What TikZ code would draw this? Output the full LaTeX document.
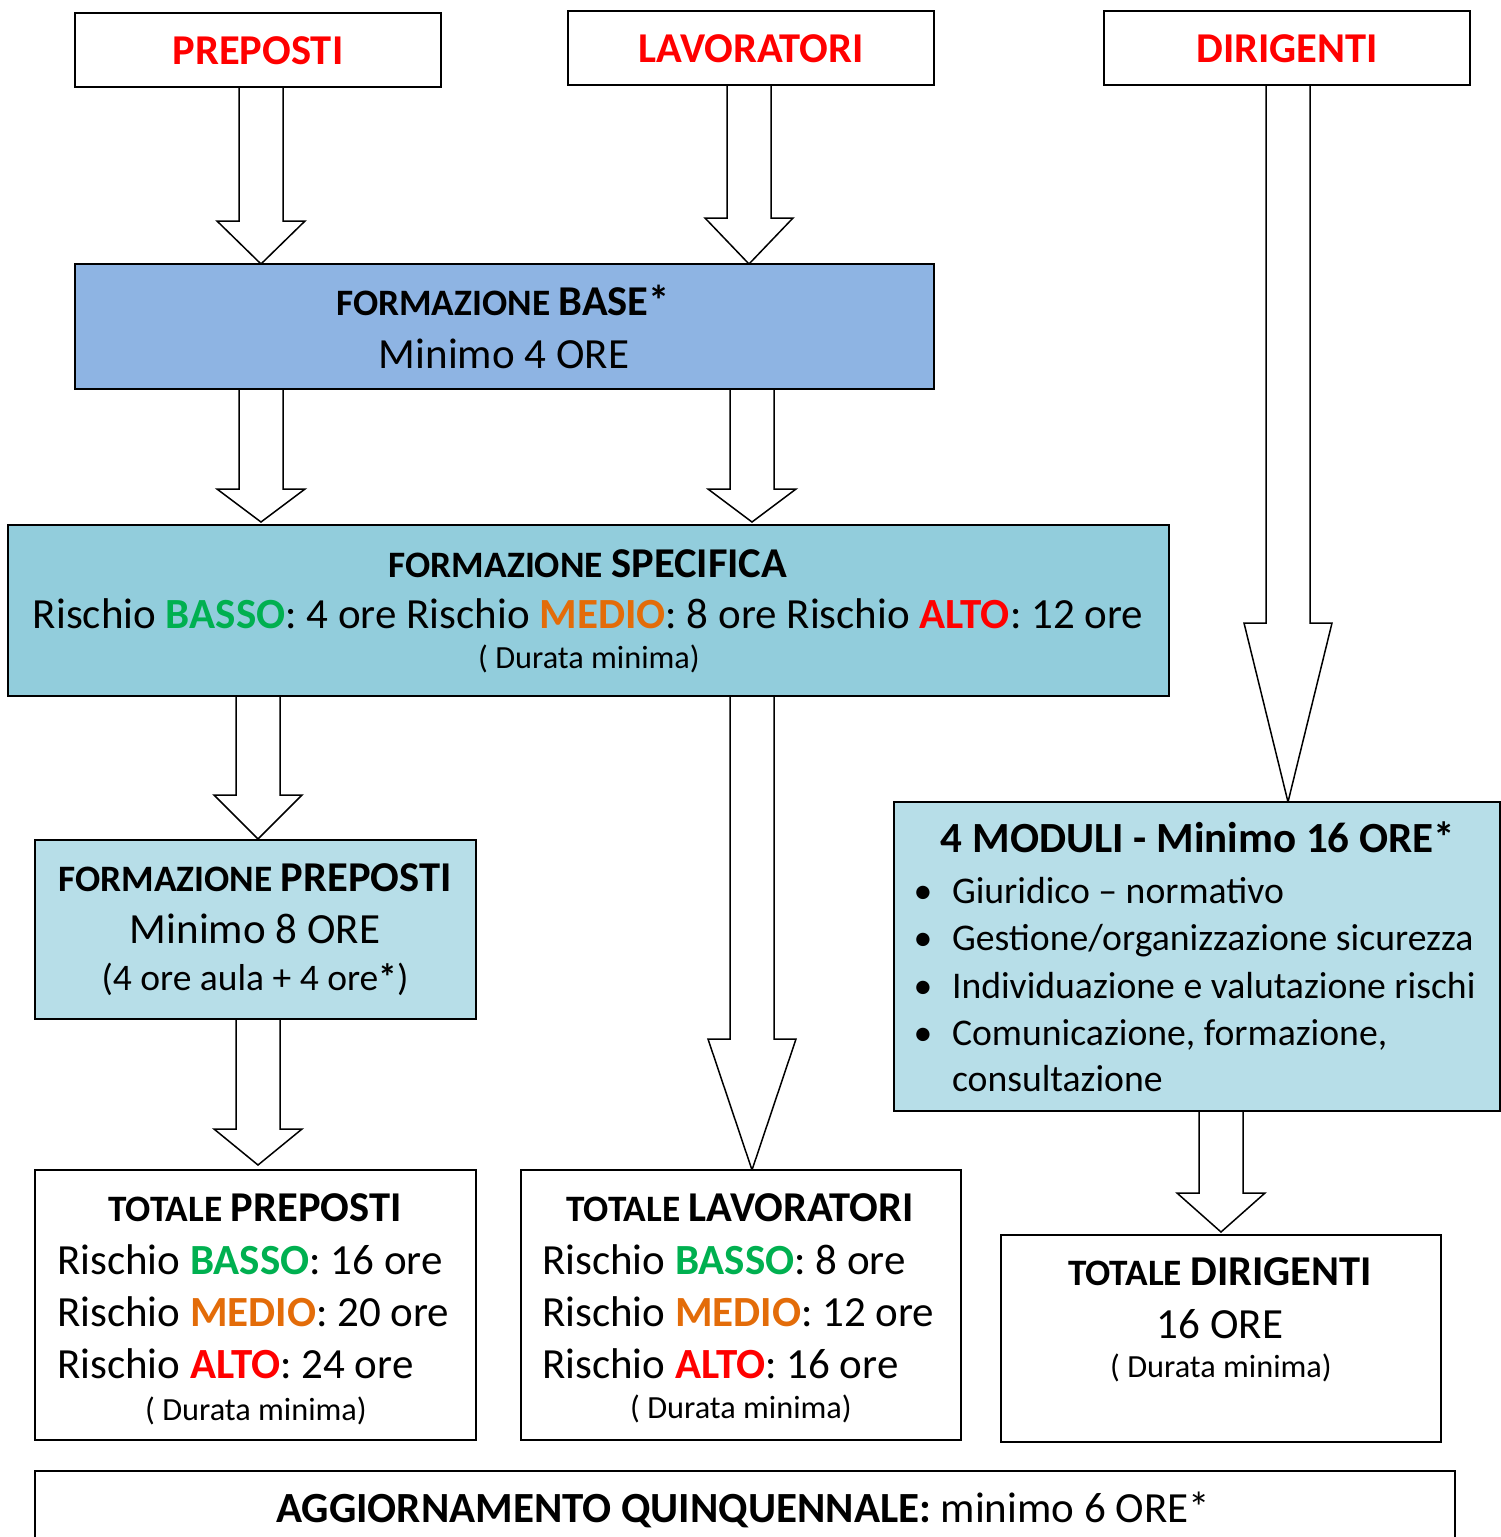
\documentclass[tikz,border=0pt]{standalone}
\usepackage{fontspec}
\setmainfont{Carlito}
\usetikzlibrary{calc,backgrounds}
\definecolor{rred}{HTML}{FF0000}
\definecolor{rgreen}{HTML}{00B050}
\definecolor{rorange}{HTML}{E36C09}
\definecolor{fblue}{HTML}{8EB4E3}
\definecolor{fspec}{HTML}{92CDDC}
\definecolor{flight}{HTML}{B7DEE8}
\newcommand\fsz[1]{\fontsize{#1pt}{#1pt}\selectfont}
\newcommand\bassoW{\textcolor{rgreen}{\textbf{BASSO}}}
\newcommand\medioW{\textcolor{rorange}{\textbf{MEDIO}}}
\newcommand\altoW{\textcolor{rred}{\textbf{ALTO}}}
\newcommand\blockarrow[5]{%
  \coordinate (ax) at (#3,0);
  \draw[blk] ([xshift=-22pt]ax |- #1.south)
    -- ([xshift=-22pt,yshift=#4pt+#5pt]ax |- #2.north)
    -- ([xshift=-44pt,yshift=#4pt+#5pt]ax |- #2.north)
    -- ([yshift=#5pt]ax |- #2.north)
    -- ([xshift=44pt,yshift=#4pt+#5pt]ax |- #2.north)
    -- ([xshift=22pt,yshift=#4pt+#5pt]ax |- #2.north)
    -- ([xshift=22pt]ax |- #1.south);
}
\tikzset{
  box/.style={draw=black, line width=1.5pt, inner sep=0pt, outer sep=0pt, rectangle},
  blk/.style={draw=black, line width=1.5pt, fill=white, line join=miter},
  txt/.style={inner sep=0pt, outer sep=0pt, anchor=base},
  txtl/.style={inner sep=0pt, outer sep=0pt, anchor=base west},
  redlab/.style={txt, text=rred, font=\fsz{42.5}\bfseries},
  body/.style={font=\fsz{43}},
  dur/.style={font=\fsz{32.3}},
  bul/.style={font=\fsz{37.7}},
}
\newcommand\ttl[2]{{\fsz{37.3}\bfseries #1 }{\fsz{42.5}\bfseries #2}}
\begin{document}
\begin{tikzpicture}[x=1pt,y=-1pt]
\useasboundingbox (0,0) rectangle (1501,1537);
\clip (0,0) rectangle (1501,1537);
% boxes
\node[box, fill=white, minimum width=366pt, minimum height=74pt] (prep) at (258,50) {};
\node[box, fill=white, minimum width=366pt, minimum height=74pt] (lav) at (751,48) {};
\node[box, fill=white, minimum width=366pt, minimum height=74pt] (dir) at (1287,48) {};
\node[box, fill=fblue, minimum width=859pt, minimum height=125pt] (base) at (504.5,326.5) {};
\node[box, fill=fspec, minimum width=1161pt, minimum height=171pt] (spec) at (588.5,610.5) {};
\node[box, fill=flight, minimum width=441pt, minimum height=179pt] (fprep) at (255.5,929.5) {};
\node[box, fill=flight, minimum width=606pt, minimum height=309pt] (mod) at (1197,956.5) {};
\node[box, fill=white, minimum width=441pt, minimum height=270pt] (totp) at (255.5,1305) {};
\node[box, fill=white, minimum width=440pt, minimum height=270pt] (totl) at (741,1305) {};
\node[box, fill=white, minimum width=440pt, minimum height=207pt] (totd) at (1221,1338.5) {};
\node[box, fill=white, minimum width=1420pt, minimum height=140pt] (agg) at (745,1541) {};
% arrows
\begin{scope}[on background layer]
\blockarrow{prep}{base}{261}{43}{0}
\blockarrow{lav}{base}{749}{46}{0}
\blockarrow{base}{spec}{261}{33}{3}
\blockarrow{base}{spec}{752}{33}{3}
\blockarrow{spec}{fprep}{258}{44}{1}
\blockarrow{spec}{totl}{752}{131}{0}
\blockarrow{dir}{mod}{1288}{179}{0}
\blockarrow{fprep}{totp}{258}{36}{5}
\blockarrow{mod}{totd}{1221}{39}{3}
\end{scope}
% texts
\node[redlab] (t1) at (258,64) {PREPOSTI};
\node[redlab] (t2) at (751,62) {LAVORATORI};
\node[redlab] (t3) at (1287,62) {DIRIGENTI};
\node[txt] (t4) at (503,315) {\ttl{FORMAZIONE}{BASE*}};
\node[txt, body] (t5) at (504,368) {Minimo 4 ORE};
\node[txt] (t6) at (588,577) {\ttl{FORMAZIONE}{SPECIFICA}};
\node[txt, body] (t7) at (588,628) {Rischio \bassoW: 4 ore Rischio \medioW: 8 ore Rischio \altoW: 12 ore};
\node[txt, dur] (t8) at (589,668) {( Durata minima)};
\node[txt] (t9) at (255,891) {\ttl{FORMAZIONE}{PREPOSTI}};
\node[txt, body] (t10) at (255,943) {Minimo 8 ORE};
\node[txt, font=\fsz{37.5}] (t11) at (255,990) {(4 ore aula + 4 ore\textbf{*})};
\node[txt, font=\fsz{43}\bfseries] (t12) at (1198,852) {4 MODULI - Minimo 16 ORE*};
\node[txt, bul] (b1) at (923,903) {•};
\node[txtl, bul] (t13) at (952,903) {Giuridico – normativo};
\node[txt, bul] (b2) at (923,950) {•};
\node[txtl, bul] (t14) at (952,950) {Gestione/organizzazione sicurezza};
\node[txt, bul] (b3) at (923,998) {•};
\node[txtl, bul] (t15) at (952,998) {Individuazione e valutazione rischi};
\node[txt, bul] (b4) at (923,1045) {•};
\node[txtl, bul] (t16) at (952,1045) {Comunicazione, formazione,};
\node[txtl, bul] (t17) at (952,1091) {consultazione};
\node[txt] (t18) at (255,1221) {\ttl{TOTALE}{PREPOSTI}};
\node[txtl, body] (t19) at (57,1274) {Rischio \bassoW: 16 ore};
\node[txtl, body] (t20) at (57,1326) {Rischio \medioW: 20 ore};
\node[txtl, body] (t21) at (57,1378) {Rischio \altoW: 24 ore};
\node[txt, dur] (t22) at (256,1420) {( Durata minima)};
\node[txt] (t23) at (740,1221) {\ttl{TOTALE}{LAVORATORI}};
\node[txtl, body] (t24) at (542,1274) {Rischio \bassoW: 8 ore};
\node[txtl, body] (t25) at (542,1326) {Rischio \medioW: 12 ore};
\node[txtl, body] (t26) at (542,1378) {Rischio \altoW: 16 ore};
\node[txt, dur] (t27) at (741,1418) {( Durata minima)};
\node[txt] (t28) at (1220,1285) {\ttl{TOTALE}{DIRIGENTI}};
\node[txt, body] (t29) at (1220,1338) {16 ORE};
\node[txt, dur] (t30) at (1221,1377) {( Durata minima)};
\node[txt, font=\fsz{43}] (t31) at (743,1522) {\textbf{AGGIORNAMENTO QUINQUENNALE:} minimo 6 ORE*};
\end{tikzpicture}
\end{document}
